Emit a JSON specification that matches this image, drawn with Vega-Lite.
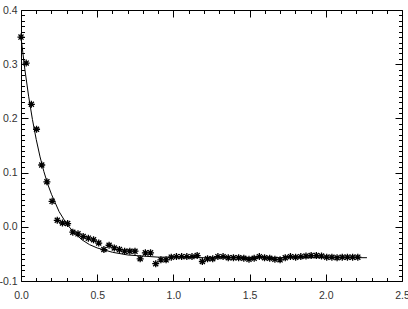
{
  "$schema": "https://vega.github.io/schema/vega-lite/v6.json",
  "width": 381,
  "height": 271,
  "autosize": {"type": "none"},
  "padding": {"left": 21, "top": 10, "right": 6, "bottom": 28},
  "background": "white",
  "config": {
    "view": {"stroke": "black", "strokeWidth": 1},
    "axis": {
      "domain": false,
      "grid": false,
      "title": null,
      "labelFont": "Liberation Sans",
      "labelFontSize": 10.5,
      "labelColor": "#333333",
      "tickColor": "black",
      "tickWidth": 1,
      "labelFlush": false,
      "labelOverlap": false
    }
  },
  "resolve": {"axis": {"x": "independent", "y": "independent"}},
  "datasets": {
    "fit": [
      {"x": 0.0, "y": 0.350}, {"x": 0.025, "y": 0.291}, {"x": 0.05, "y": 0.241},
      {"x": 0.075, "y": 0.198}, {"x": 0.1, "y": 0.161}, {"x": 0.125, "y": 0.129},
      {"x": 0.15, "y": 0.102}, {"x": 0.175, "y": 0.079}, {"x": 0.2, "y": 0.060},
      {"x": 0.25, "y": 0.028}, {"x": 0.3, "y": 0.005}, {"x": 0.35, "y": -0.011},
      {"x": 0.4, "y": -0.024}, {"x": 0.45, "y": -0.033}, {"x": 0.5, "y": -0.039},
      {"x": 0.6, "y": -0.047}, {"x": 0.7, "y": -0.052}, {"x": 0.8, "y": -0.054},
      {"x": 0.9, "y": -0.056}, {"x": 1.0, "y": -0.056}, {"x": 1.2, "y": -0.057},
      {"x": 1.5, "y": -0.057}, {"x": 2.0, "y": -0.057}, {"x": 2.27, "y": -0.057}
    ],
    "obs": [
      {"x": 0.000, "y": 0.350}, {"x": 0.034, "y": 0.302}, {"x": 0.068, "y": 0.226},
      {"x": 0.102, "y": 0.180}, {"x": 0.136, "y": 0.114}, {"x": 0.170, "y": 0.083},
      {"x": 0.204, "y": 0.047}, {"x": 0.238, "y": 0.012}, {"x": 0.272, "y": 0.007},
      {"x": 0.306, "y": 0.006}, {"x": 0.340, "y": -0.010}, {"x": 0.374, "y": -0.013},
      {"x": 0.408, "y": -0.018}, {"x": 0.442, "y": -0.021}, {"x": 0.476, "y": -0.024},
      {"x": 0.510, "y": -0.030}, {"x": 0.544, "y": -0.042}, {"x": 0.578, "y": -0.034},
      {"x": 0.612, "y": -0.039}, {"x": 0.646, "y": -0.042}, {"x": 0.680, "y": -0.045},
      {"x": 0.714, "y": -0.045}, {"x": 0.748, "y": -0.045}, {"x": 0.782, "y": -0.059},
      {"x": 0.816, "y": -0.048}, {"x": 0.850, "y": -0.048}, {"x": 0.884, "y": -0.068},
      {"x": 0.918, "y": -0.061}, {"x": 0.952, "y": -0.061}, {"x": 0.986, "y": -0.056},
      {"x": 1.020, "y": -0.055}, {"x": 1.054, "y": -0.055}, {"x": 1.088, "y": -0.055},
      {"x": 1.122, "y": -0.055}, {"x": 1.156, "y": -0.053}, {"x": 1.190, "y": -0.064},
      {"x": 1.224, "y": -0.059}, {"x": 1.258, "y": -0.059}, {"x": 1.292, "y": -0.055},
      {"x": 1.326, "y": -0.055}, {"x": 1.360, "y": -0.057}, {"x": 1.394, "y": -0.057},
      {"x": 1.428, "y": -0.057}, {"x": 1.462, "y": -0.058}, {"x": 1.496, "y": -0.060},
      {"x": 1.530, "y": -0.058}, {"x": 1.564, "y": -0.055}, {"x": 1.598, "y": -0.057},
      {"x": 1.632, "y": -0.058}, {"x": 1.666, "y": -0.060}, {"x": 1.700, "y": -0.061},
      {"x": 1.734, "y": -0.057}, {"x": 1.768, "y": -0.055}, {"x": 1.802, "y": -0.056},
      {"x": 1.836, "y": -0.055}, {"x": 1.870, "y": -0.054}, {"x": 1.904, "y": -0.053},
      {"x": 1.938, "y": -0.053}, {"x": 1.972, "y": -0.054}, {"x": 2.006, "y": -0.056},
      {"x": 2.040, "y": -0.056}, {"x": 2.074, "y": -0.057}, {"x": 2.108, "y": -0.056},
      {"x": 2.142, "y": -0.056}, {"x": 2.176, "y": -0.056}, {"x": 2.210, "y": -0.056}
    ]
  },
  "layer": [
    {
      "data": {"name": "fit"},
      "mark": {"type": "line", "color": "black", "strokeWidth": 1, "clip": true},
      "encoding": {
        "x": {
          "field": "x", "type": "quantitative",
          "scale": {"domain": [0, 2.5], "nice": false, "zero": false},
          "axis": {
            "orient": "bottom",
            "values": [0, 0.5, 1.0, 1.5, 2.0, 2.5],
            "format": ".1f",
            "tickSize": -7,
            "labelPadding": 16
          }
        },
        "y": {
          "field": "y", "type": "quantitative",
          "scale": {"domain": [-0.1, 0.4], "nice": false, "zero": false},
          "axis": {
            "orient": "left",
            "values": [-0.1, 0, 0.1, 0.2, 0.3, 0.4],
            "labelExpr": "replace(format(datum.value, '.1f'), '\u2212', '-')",
            "tickSize": -7,
            "labelPadding": 11
          }
        }
      }
    },
    {
      "data": {"name": "obs"},
      "mark": {
        "type": "point",
        "shape": "M-1,0L1,0M0,-1L0,1M-0.72,-0.72L0.72,0.72M-0.72,0.72L0.72,-0.72",
        "size": 49,
        "filled": false,
        "stroke": "black",
        "strokeWidth": 1.3,
        "opacity": 1
      },
      "encoding": {
        "x": {
          "field": "x", "type": "quantitative",
          "axis": {"orient": "top", "values": [0, 0.5, 1.0, 1.5, 2.0, 2.5], "tickSize": -7, "labels": false}
        },
        "y": {
          "field": "y", "type": "quantitative",
          "axis": {"orient": "right", "values": [-0.1, 0, 0.1, 0.2, 0.3, 0.4], "tickSize": -7, "labels": false}
        }
      }
    },
    {
      "data": {"name": "obs"},
      "mark": {"type": "point", "opacity": 0, "size": 1},
      "encoding": {
        "x": {
          "field": "x", "type": "quantitative",
          "axis": {"orient": "bottom", "values": [0.1,0.2,0.3,0.4,0.6,0.7,0.8,0.9,1.1,1.2,1.3,1.4,1.6,1.7,1.8,1.9,2.1,2.2,2.3,2.4], "tickSize": -3.5, "labels": false}
        },
        "y": {
          "field": "y", "type": "quantitative",
          "axis": {"orient": "left", "values": [-0.09,-0.08,-0.07,-0.06,-0.05,-0.04,-0.03,-0.02,-0.01,0.01,0.02,0.03,0.04,0.05,0.06,0.07,0.08,0.09,0.11,0.12,0.13,0.14,0.15,0.16,0.17,0.18,0.19,0.21,0.22,0.23,0.24,0.25,0.26,0.27,0.28,0.29,0.31,0.32,0.33,0.34,0.35,0.36,0.37,0.38,0.39], "tickSize": -3.5, "labels": false}
        }
      }
    },
    {
      "data": {"name": "obs"},
      "mark": {"type": "point", "opacity": 0, "size": 1},
      "encoding": {
        "x": {
          "field": "x", "type": "quantitative",
          "axis": {"orient": "top", "values": [0.1,0.2,0.3,0.4,0.6,0.7,0.8,0.9,1.1,1.2,1.3,1.4,1.6,1.7,1.8,1.9,2.1,2.2,2.3,2.4], "tickSize": -3.5, "labels": false}
        },
        "y": {
          "field": "y", "type": "quantitative",
          "axis": {"orient": "right", "values": [-0.09,-0.08,-0.07,-0.06,-0.05,-0.04,-0.03,-0.02,-0.01,0.01,0.02,0.03,0.04,0.05,0.06,0.07,0.08,0.09,0.11,0.12,0.13,0.14,0.15,0.16,0.17,0.18,0.19,0.21,0.22,0.23,0.24,0.25,0.26,0.27,0.28,0.29,0.31,0.32,0.33,0.34,0.35,0.36,0.37,0.38,0.39], "tickSize": -3.5, "labels": false}
        }
      }
    }
  ]
}
